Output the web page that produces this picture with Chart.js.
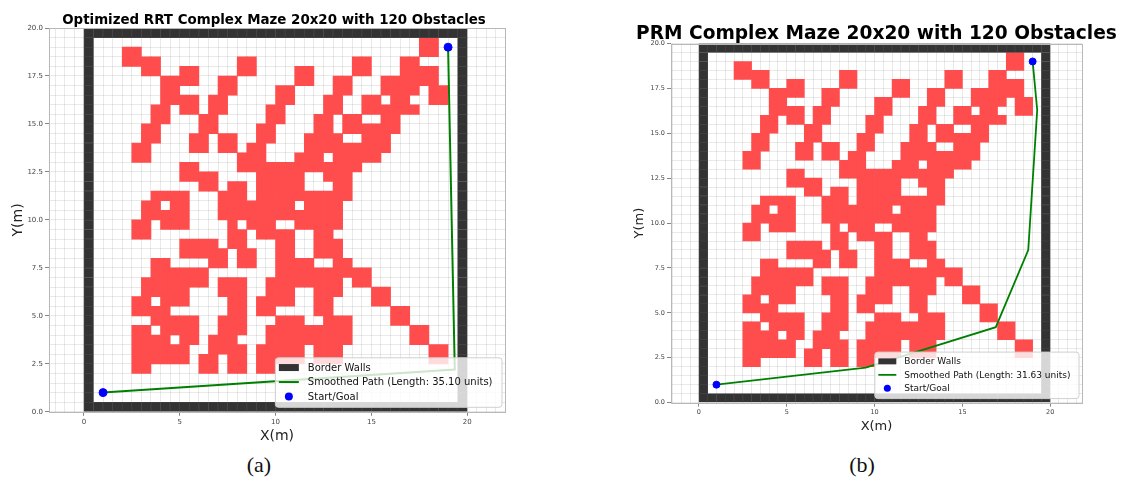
<!DOCTYPE html>
<html>
<head>
<meta charset="utf-8">
<script src="https://cdn.jsdelivr.net/npm/chart.js@4.4.1/dist/chart.umd.min.js"></script>
<style>
  body { margin: 0; background: #fff; width: 1121px; height: 483px; position: relative; overflow: hidden; }
  canvas { position: absolute; }
  .cap { position: absolute; width: 100px; text-align: center; font-family: "Liberation Serif", serif; font-size: 22px; color: #111; top: 452px; }
</style>
</head>
<body>
<canvas id="chartA" width="515" height="449" style="left:0;top:0"></canvas>
<canvas id="chartB" width="521" height="438" style="left:600px;top:0"></canvas>
<div class="cap" style="left:209px">(a)</div>
<div class="cap" style="left:812px">(b)</div>
<script>
var mazeSize = 20;
var wallThickness = 0.5;
var cellSize = 0.5;

// obstacle occupancy, one string per 0.5 m row (top row = y 19.0..19.5),
// one char per 0.5 m column starting at x = 0 ; spaces are only for reading
var mazeRows = [
  "..... ..... ..... ..... ..... ..... ..... ##...",
  "....# #.... ..... ..... ..... ..... ..... ##...",
  "....# ###.. ..... .##.. ..... ...## ...## .....",
  "..... .##.. ##... .##.. ..##. ...## ...## ##...",
  "..... ...## ##..# #.... ..##. .##.. .#### ##...",
  "..... ...## ....# #.... ##... .##.. .#### .##..",
  "..... ...## ##.## ..... ##... ##..# #.##. .##..",
  "..... ..##. ##.## ....# #.... ##..# ##### .....",
  "..... ..##. ..##. ....# #...# #.##. .##.. .....",
  "..... .##.. ..##. ...## ....# #.### ###.. .....",
  "..... .##.. .##.# #..## ...## ##..# ##... .....",
  "..... ##... .##.# #.##. ...## ##### ##... .....",
  "..... ##... ..... .###. ..### .#### #.... .....",
  "..... ..... ##... .#### ##### ####. ..... .....",
  "..... ..... ####. ...## ###.. ###.. ..... .....",
  "..... ..... ..##. ##.## ###.. .##.. ..... .....",
  "..... ..### #...# ##.## ##### ###.. ..... .....",
  "..... .##.# #...# ##### ##.## ##... ..... .....",
  "..... .#### #...# ##### ##### ##... ..... .....",
  "..... ##.## #.... #.### ..### ##... ..... .....",
  "..... ##... ..... ##.## ##..# #.... ..... .....",
  "..... ..... ####. ##... ##..# ##... ..... .....",
  "..... ..... ##### .##.. ##..# ##... ..... .....",
  "..... ..##. ...## .##.. ####. .##.. ..... .....",
  "..... ..### ###.. ..... ##### ##### ..... .....",
  "..... .#### ###.# ##..# ##### ##.## ..... .....",
  "..... .#### #...# ##..# ##..# ##... ##... .....",
  "..... ##.## #.... ##.## ##..# #.... ##... .....",
  "..... ####. ..... ##.## ....# #.... ..##. .....",
  "..... ..### ##..# ##... ###.. ###.. ..##. .....",
  "..... ##.## ##..# ##..# ##### ###.. ....# #....",
  "..... ####. ##.## #...# ##### ###.. ....# #....",
  "..... ##### #..## ##.## ###.# ##... ..... .##..",
  "..... ##### #.##. ##.## ###.# ##... ..... .##..",
  "..... ##... ..##. ##.## ..... ..... ..... .....",
  "..... ..... ..... ..... ..... ..... ..... .....",
  "..... ..... ..... ..... ..... ..... ..... .....",
  "..... ..... ..... ..... ..... ..... ..... ....."
];

var startGoalX = [1, 19];
var startGoalY = [1, 19];

var rrtPathX = [1, 19.35, 19];
var rrtPathY = [1, 2.2, 19];
var rrtLength = '35.10';

var prmPathX = [1, 9.5, 16.9, 18.75, 19.26, 19];
var prmPathY = [1, 1.95, 4.2, 8.5, 16.3, 19];
var prmLength = '31.63';

var titleA = 'Optimized RRT Complex Maze 20x20 with 120 Obstacles';
var titleB = 'PRM Complex Maze 20x20 with 120 Obstacles';

var FONT = '"DejaVu Sans", sans-serif';

// obstacles as floating bars, one per vertical run of filled 0.5 m cells
function obstacleBars() {
  var grid = mazeRows.map(function (r) { return r.replace(/ /g, ''); });
  var bars = [];
  var top = mazeSize - wallThickness;
  for (var c = 0; c < grid[0].length; c++) {
    var r = 0;
    while (r < grid.length) {
      if (grid[r][c] === '#') {
        var r0 = r;
        while (r < grid.length && grid[r][c] === '#') r++;
        bars.push({ x: c * cellSize + cellSize / 2, y: [top - r * cellSize, top - r0 * cellSize] });
      } else {
        r++;
      }
    }
  }
  return bars;
}

// border wall made of 0.5 m squares
function wallBars() {
  var bars = [];
  var n = mazeSize / cellSize;
  for (var i = 0; i < n; i++) {
    var x = i * cellSize + cellSize / 2;
    for (var j = 0; j < n; j++) {
      var y = j * cellSize;
      var onEdge = (i == 0 || i == n - 1 || j == 0 || j == n - 1);
      if (onEdge) bars.push({ x: x, y: [y, y + cellSize] });
    }
  }
  return bars;
}

function toPoints(xs, ys) {
  return xs.map(function (x, i) { return { x: x, y: ys[i] }; });
}

var frame = {
  id: 'frame',
  afterDraw: function (chart) {
    var a = chart.chartArea, ctx = chart.ctx;
    ctx.save();
    ctx.strokeStyle = '#b8b8b8';
    ctx.lineWidth = 1;
    ctx.strokeRect(Math.round(a.left) + 0.5, Math.round(a.top) + 0.5, Math.round(a.width), Math.round(a.height));
    ctx.restore();
  }
};

// title centred over the axes, like matplotlib does it
var axesTitle = {
  id: 'axesTitle',
  afterDraw: function (chart, args, o) {
    var a = chart.chartArea, ctx = chart.ctx;
    ctx.save();
    ctx.font = 'bold ' + o.size + 'px ' + FONT;
    ctx.fillStyle = '#000';
    ctx.textAlign = 'center';
    ctx.textBaseline = 'alphabetic';
    ctx.fillText(o.text, (a.left + a.right) / 2 + o.dx, o.baseline);
    ctx.restore();
  }
};

// matplotlib style legend in the lower right corner of the axes
var cornerLegend = {
  id: 'cornerLegend',
  afterDraw: function (chart, args, o) {
    var ctx = chart.ctx, a = chart.chartArea;
    var items = o.order.map(function (i) { return chart.data.datasets[i]; });
    ctx.save();
    ctx.font = o.size + 'px ' + FONT;
    var textW = 0;
    items.forEach(function (d) { textW = Math.max(textW, ctx.measureText(d.label).width); });
    var w = o.padX + o.marker + o.gap + textW + o.padR;
    var h = items.length * o.rowH + 2 * o.padY;
    var x = a.right - o.margin - w;
    var y = a.bottom - o.marginB - h;
    ctx.fillStyle = 'rgba(255,255,255,0.8)';
    ctx.strokeStyle = '#d0d0d0';
    ctx.lineWidth = 1;
    ctx.beginPath();
    ctx.roundRect(x + 0.5, y + 0.5, w, h, 3);
    ctx.fill();
    ctx.stroke();
    items.forEach(function (d, k) {
      var cy = y + o.padY + o.rowH * (k + 0.5);
      var mx = x + o.padX;
      if (d.type === 'bar') {
        ctx.fillStyle = d.backgroundColor;
        ctx.fillRect(mx, cy - o.rectH / 2, o.marker, o.rectH);
      } else if (d.showLine) {
        ctx.strokeStyle = d.borderColor;
        ctx.lineWidth = d.borderWidth;
        ctx.beginPath();
        ctx.moveTo(mx, cy);
        ctx.lineTo(mx + o.marker, cy);
        ctx.stroke();
      } else {
        ctx.fillStyle = d.backgroundColor;
        ctx.beginPath();
        ctx.arc(mx + o.marker / 2, cy, d.pointRadius, 0, Math.PI * 2);
        ctx.fill();
      }
      ctx.fillStyle = '#111';
      ctx.textBaseline = 'middle';
      ctx.fillText(d.label, mx + o.marker + o.gap, cy + 0.5);
    });
    ctx.restore();
  }
};

function makeMaze(id, cfg) {
  var isMajorX = function (v) { return Math.abs(v % 5) < 1e-9; };
  var isMajorY = function (v) { return Math.abs(v % 2.5) < 1e-9; };
  return new Chart(document.getElementById(id), {
    type: 'scatter',
    data: {
      datasets: [
        {
          type: 'scatter', label: 'Start/Goal', data: toPoints(startGoalX, startGoalY),
          backgroundColor: '#0000ff', borderColor: '#0000ff', pointRadius: cfg.dot, showLine: false
        },
        {
          type: 'line', label: 'Smoothed Path (Length: ' + cfg.length + ' units)', data: toPoints(cfg.pathX, cfg.pathY),
          borderColor: '#008000', backgroundColor: '#008000', borderWidth: cfg.lineW, pointRadius: 0, showLine: true, tension: 0
        },
        {
          type: 'bar', label: 'Border Walls', data: wallBars(),
          backgroundColor: '#333333', borderColor: '#474747', borderWidth: 0.6, borderSkipped: false,
          grouped: false, barPercentage: 1, categoryPercentage: 1
        },
        {
          type: 'bar', label: '', data: obstacleBars(),
          backgroundColor: '#ff4c4c', borderWidth: 0, grouped: false, barPercentage: 1, categoryPercentage: 1
        }
      ]
    },
    options: {
      responsive: false,
      animation: false,
      events: [],
      layout: { padding: cfg.padding },
      plugins: {
        legend: { display: false },
        tooltip: { enabled: false },
        title: { display: false },
        axesTitle: cfg.title,
        cornerLegend: cfg.legend
      },
      scales: {
        x: {
          type: 'linear', min: cfg.xMin, max: cfg.xMax, offset: false,
          border: { display: false },
          grid: {
            offset: false, color: 'rgba(0,0,0,0.11)', lineWidth: 0.8, tickLength: 4,
            tickColor: function (c) { return isMajorX(c.tick.value) ? '#666' : 'rgba(0,0,0,0)'; }
          },
          ticks: {
            stepSize: 0.5, autoSkip: false, includeBounds: false, maxRotation: 0, padding: 2,
            color: '#444', font: { family: FONT, size: cfg.tickSize },
            callback: function (v) { return isMajorX(v) ? String(v) : ''; }
          },
          title: { display: true, text: 'X(m)', color: '#222', font: { family: FONT, size: cfg.axisSize }, padding: { top: 0, bottom: 4 } }
        },
        y: {
          type: 'linear', min: 0, max: mazeSize,
          border: { display: false },
          grid: {
            color: 'rgba(0,0,0,0.11)', lineWidth: 0.8, tickLength: 4,
            tickColor: function (c) { return isMajorY(c.tick.value) ? '#666' : 'rgba(0,0,0,0)'; }
          },
          ticks: {
            stepSize: 0.5, autoSkip: false, includeBounds: false, padding: 2,
            color: '#444', font: { family: FONT, size: cfg.tickSize },
            callback: function (v) { return isMajorY(v) ? v.toFixed(1) : ''; }
          },
          title: { display: true, text: 'Y(m)', color: '#222', font: { family: FONT, size: cfg.axisSize }, padding: cfg.yTitlePad }
        }
      }
    },
    plugins: [frame, axesTitle, cornerLegend]
  });
}

makeMaze('chartA', {
  title: { text: titleA, size: 13.4, baseline: 24, dx: -3 },
  pathX: rrtPathX, pathY: rrtPathY, length: rrtLength,
  xMin: -1.82, xMax: 21.97, tickSize: 7, axisSize: 14,
  dot: 4, lineW: 2,
  yTitlePad: { top: 9, bottom: -1.4 },
  padding: { left: 1, right: 10, top: 28, bottom: 0 },
  legend: { order: [2, 1, 0], size: 10, rowH: 14.5, padX: 4, padY: 3, padR: 9, marker: 20, gap: 9, rectH: 7, margin: 3.5, marginB: 5 }
});

makeMaze('chartB', {
  title: { text: titleB, size: 18.6, baseline: 39, dx: 0 },
  pathX: prmPathX, pathY: prmPathY, length: prmLength,
  xMin: -1.59, xMax: 21.81, tickSize: 6.5, axisSize: 13,
  dot: 3.5, lineW: 1.8,
  yTitlePad: { top: 8.2, bottom: 0.7 },
  padding: { left: 24, right: 39, top: 43.5, bottom: 0 },
  legend: { order: [2, 1, 0], size: 9, rowH: 13.5, padX: 4, padY: 3, padR: 8, marker: 18, gap: 8, rectH: 6, margin: 3.5, marginB: 4.5 }
});
</script>
</body>
</html>
